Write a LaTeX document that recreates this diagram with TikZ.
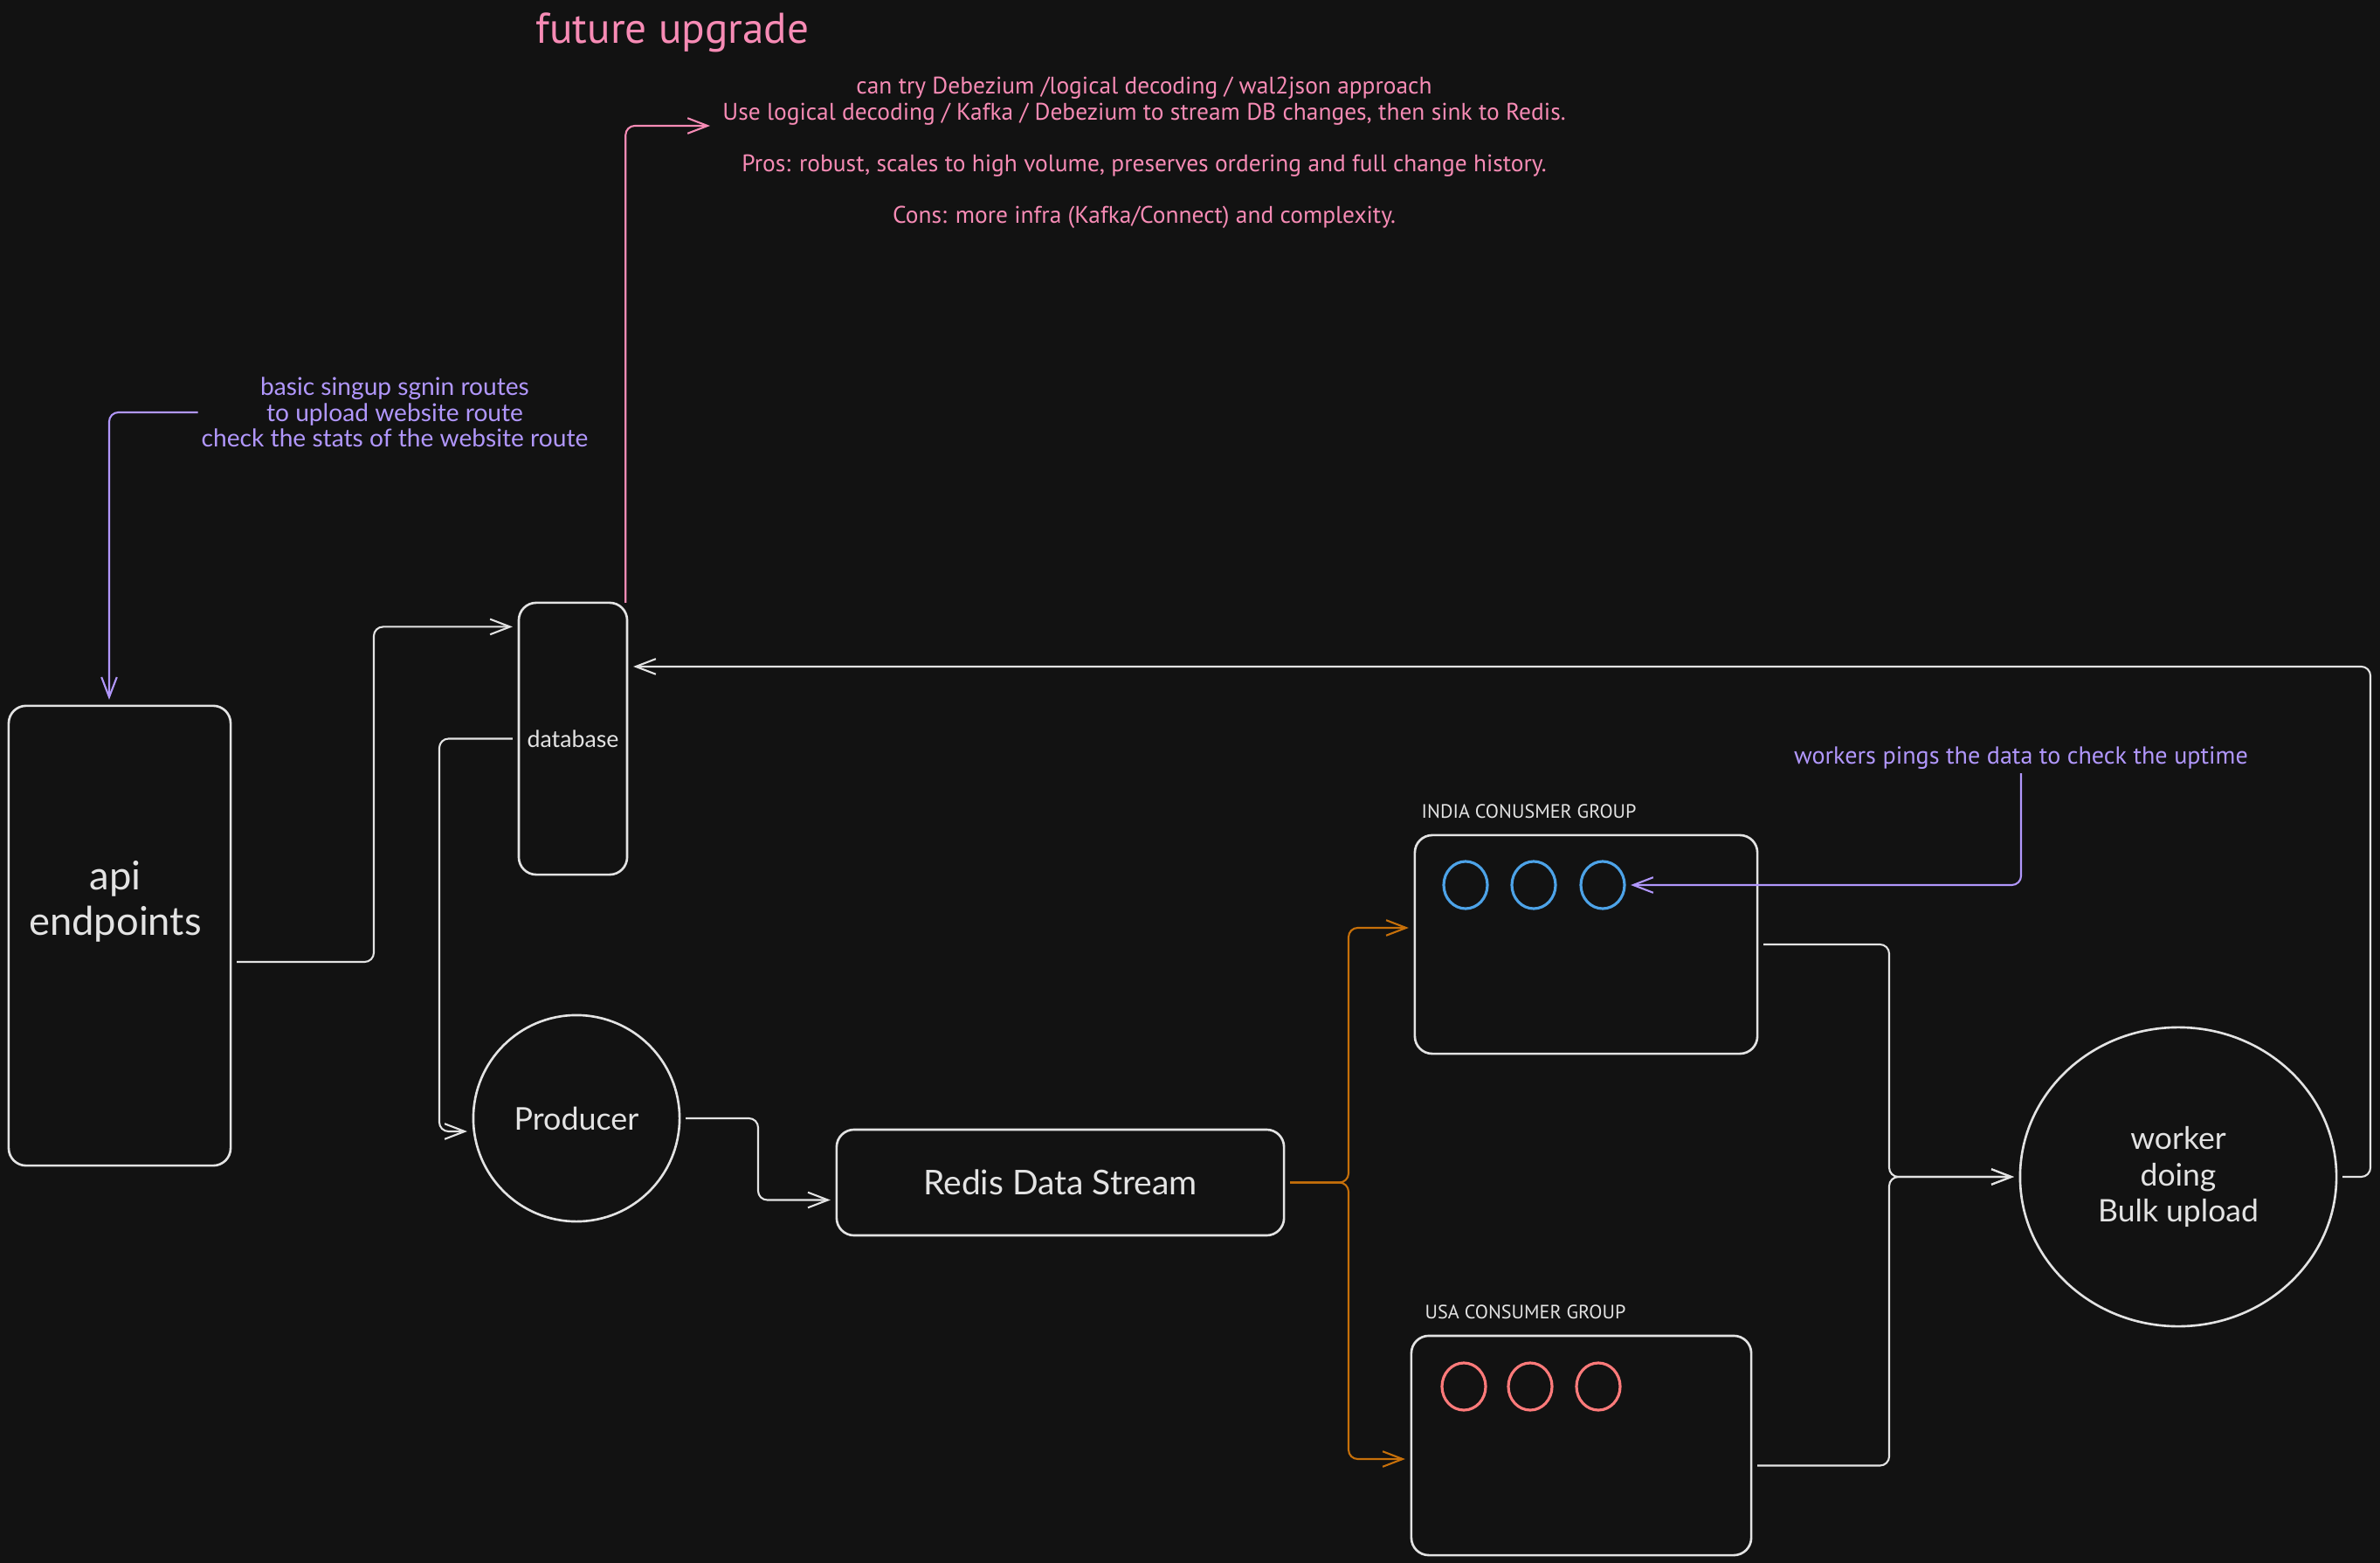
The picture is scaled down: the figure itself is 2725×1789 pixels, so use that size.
\documentclass[tikz,border=0pt]{standalone}
\usepackage{fontspec}
\setmainfont{Lato}
\newfontfamily\narrowfont{PT Sans}
\usetikzlibrary{arrows.meta,shapes.geometric}
\definecolor{bg}{HTML}{121212}
\definecolor{ink}{HTML}{E3E3E3}
\definecolor{pinkink}{HTML}{F78BB5}
\definecolor{violetink}{HTML}{B197FC}
\definecolor{orangeink}{HTML}{C7700A}
\definecolor{blueink}{HTML}{4DA3E8}
\definecolor{redink}{HTML}{FF7A7A}

\begin{document}
\begin{tikzpicture}[x=0.01cm, y=-0.01cm,
    shapebox/.style={draw=ink, line width=0.75pt, rounded corners=0.2cm, inner sep=0pt, outer sep=0pt, text=ink, align=center},
    ring/.style={draw=ink, line width=0.75pt, inner sep=0pt, outer sep=0pt, text=ink, align=center},
    consumer/.style={ellipse, draw=#1, line width=0.9pt, minimum width=0.5cm, minimum height=0.54cm, inner sep=0pt, outer sep=0pt},
    lbl/.style={text=ink, align=center, inner sep=0pt},
    grouplbl/.style={text=ink, inner sep=0pt, font=\narrowfont\fontsize{6.3pt}{7.5pt}\selectfont},
    pinktext/.style={text=pinkink, align=center, inner sep=1pt},
    violettext/.style={text=violetink, align=center, inner sep=1pt},
    conn/.style={draw=ink, line width=0.6pt, rounded corners=3pt, -{Straight Barb[length=6.5pt,width=5pt]}},
    oconn/.style={conn, draw=orangeink},
    pconn/.style={conn, draw=pinkink},
    vconn/.style={conn, draw=violetink}]
  \fill[bg] (0,0) rectangle (2725,1789);
  \useasboundingbox (0,0) rectangle (2725,1789);

  \node[shapebox, minimum width=2.54cm, minimum height=5.26cm] (api) at (137,1071) {};
  \node[lbl, font=\fontsize{12.9pt}{14.8pt}\selectfont] (apitext) at (132,1032) {api\\endpoints};
  \node[shapebox, minimum width=1.24cm, minimum height=3.11cm, font=\fontsize{7.6pt}{9pt}\selectfont] (db) at (656,845.5) {database};
  \node[ring, circle, minimum size=2.36cm, font=\fontsize{10.2pt}{12pt}\selectfont] (prod) at (660,1280) {Producer};
  \node[shapebox, minimum width=5.12cm, minimum height=1.21cm, font=\fontsize{11.1pt}{13pt}\selectfont] (redis) at (1214,1353.5) {Redis Data Stream};
  \node[shapebox, minimum width=3.92cm, minimum height=2.5cm] (india) at (1816,1081) {};
  \node[shapebox, minimum width=3.89cm, minimum height=2.51cm] (usa) at (1810.5,1654.5) {};
  \node[ring, ellipse, minimum width=3.62cm, minimum height=3.42cm, font=\fontsize{10.1pt}{11.7pt}\selectfont] (worker) at (2494,1347) {worker\\doing\\Bulk upload};

  \node[grouplbl, anchor=west] (indialbl) at (1627,929) {INDIA CONUSMER GROUP};
  \node[grouplbl, anchor=west] (usalbl) at (1631,1502) {USA CONSUMER GROUP};
  \node[consumer=blueink] (b1) at (1678,1013) {};
  \node[consumer=blueink] (b2) at (1756,1013) {};
  \node[consumer=blueink] (b3) at (1835,1013) {};
  \node[consumer=redink] (r1) at (1676,1587) {};
  \node[consumer=redink] (r2) at (1752,1587) {};
  \node[consumer=redink] (r3) at (1830,1587) {};

  \node[pinktext, font=\narrowfont\fontsize{14pt}{16pt}\selectfont] (future) at (770,37) {future upgrade};
  \node[pinktext, font=\narrowfont\fontsize{7.8pt}{8.4pt}\selectfont] (cdc) at (1310,175) {can try Debezium /logical decoding / wal2json approach\\Use logical decoding / Kafka / Debezium to stream DB changes, then sink to Redis.\\[8.4pt]Pros: robust, scales to high volume, preserves ordering and full change history.\\[8.4pt]Cons: more infra (Kafka/Connect) and complexity.};
  \coordinate (cdcin) at (813,144);
  \node[violettext, font=\fontsize{8pt}{8.4pt}\selectfont] (routes) at (452,472) {basic singup sgnin routes\\to upload website route\\check the stats of the website route};
  \node[violettext, font=\narrowfont\fontsize{8pt}{9pt}\selectfont] (ping) at (2314,868) {workers pings the data to check the uptime};

  \draw[conn] ([xshift=2pt,yshift=-0.3cm]api.east) -| (428,780) |- ([xshift=-2pt,yshift=1.28cm]db.west);
  \draw[conn] ([xshift=-2pt]db.west) -| (503,1000) |- ([xshift=-2pt,yshift=-0.15cm]prod.west);
  \draw[conn] ([xshift=2pt]prod.east) -| (868,1330) |- ([xshift=-2pt,yshift=-0.2cm]redis.west);
  \draw[oconn] ([xshift=2pt]redis.east) -| (1544,1200) |- ([xshift=-2pt,yshift=0.19cm]india.west);
  \draw[oconn] ([xshift=2pt]redis.east) -| (1544,1500) |- ([xshift=-2pt,yshift=-0.155cm]usa.west);
  \draw[conn] ([xshift=2pt]india.east) -| (2163,1200) |- ([xshift=-2pt]worker.west);
  \draw[conn] ([xshift=2pt,yshift=-0.23cm]usa.east) -| (2163,1500) |- ([xshift=-2pt]worker.west);
  \draw[conn] ([xshift=2pt]worker.east) -| (2714,1000) |- ([xshift=2pt,yshift=0.825cm]db.east);
  \draw[pconn] ([xshift=-0.5pt]db.north east) |- (cdcin);
  \draw[vconn] (routes.west) -| ([xshift=-0.12cm,yshift=2pt]api.north);
  \draw[vconn] (ping.south) |- ([xshift=2pt]b3.east);
\end{tikzpicture}
\end{document}
